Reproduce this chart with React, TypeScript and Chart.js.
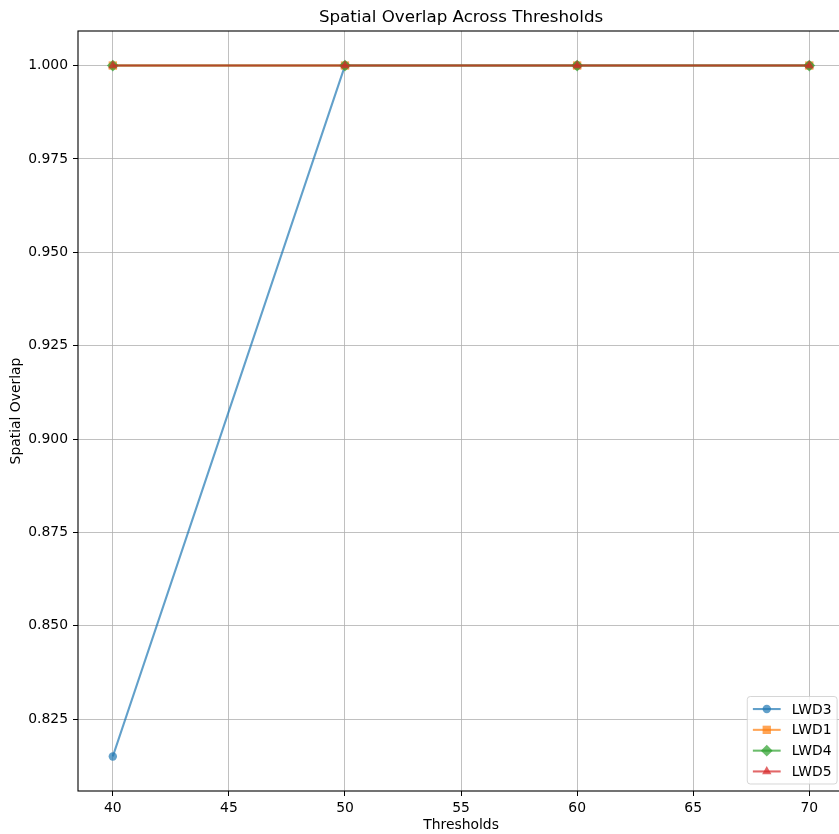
import React, { useEffect, useRef } from 'react';
import { Chart, registerables } from 'chart.js';

Chart.register(...registerables);

// Thresholds evaluated and spatial overlap per series
const thresholds = [40, 50, 60, 70];
const lwd3 = [0.815, 1.0, 1.0, 1.0];
const lwd1 = [1.0, 1.0, 1.0, 1.0];
const lwd4 = [1.0, 1.0, 1.0, 1.0];
const lwd5 = [1.0, 1.0, 1.0, 1.0];
const seriesNames = ['LWD3', 'LWD1', 'LWD4', 'LWD5'];

// Axis ticks
const xTicks = [40, 45, 50, 55, 60, 65, 70];
const yTicks = [0.825, 0.85, 0.875, 0.9, 0.925, 0.95, 0.975, 1.0];

const titleText = 'Spatial Overlap Across Thresholds';
const xLabel = 'Thresholds';
const yLabel = 'Spatial Overlap';

// Styling per series (tab10 colours, 0.7 alpha)
const seriesColors = [
  'rgba(31,119,180,0.7)',
  'rgba(255,127,14,0.7)',
  'rgba(44,160,44,0.7)',
  'rgba(214,39,40,0.7)',
];
const seriesMarkers = ['circle', 'rect', 'rectRot', 'triangle'];
const markerRadii = [4.2, 5.9, 5.9, 5.4];

const FONT = '"DejaVu Sans", "Liberation Sans", sans-serif';
const TICK_PX = 13.9;
const TITLE_PX = 16.7;

function drawMarker(ctx: CanvasRenderingContext2D, style: string, r: number, x: number, y: number) {
  ctx.beginPath();
  if (style === 'circle') {
    ctx.arc(x, y, r, 0, Math.PI * 2);
  } else if (style === 'rect') {
    const s = Math.SQRT1_2 * r;
    ctx.rect(x - s, y - s, 2 * s, 2 * s);
  } else if (style === 'rectRot') {
    ctx.moveTo(x, y - r);
    ctx.lineTo(x + r, y);
    ctx.lineTo(x, y + r);
    ctx.lineTo(x - r, y);
    ctx.closePath();
  } else {
    for (let k = 0; k < 3; k++) {
      const a = (k * 2 * Math.PI) / 3;
      const px = x + Math.sin(a) * r;
      const py = y - Math.cos(a) * r;
      if (k === 0) ctx.moveTo(px, py);
      else ctx.lineTo(px, py);
    }
    ctx.closePath();
  }
  ctx.fill();
}

// Frame, title and in-axes legend, drawn over the datasets
const framePlugin = {
  id: 'frameTitleLegend',
  afterDatasetsDraw(chart: any) {
    const { ctx, chartArea: a } = chart;
    ctx.save();

    // spines
    ctx.strokeStyle = '#000';
    ctx.lineWidth = 1.1;
    ctx.strokeRect(a.left, a.top, a.right - a.left, a.bottom - a.top);

    // title
    ctx.fillStyle = '#000';
    ctx.font = `${TITLE_PX}px ${FONT}`;
    ctx.textAlign = 'center';
    ctx.textBaseline = 'alphabetic';
    ctx.fillText(titleText, (a.left + a.right) / 2, a.top - 9);

    // legend (lower right)
    ctx.font = `${TICK_PX}px ${FONT}`;
    const datasets = chart.data.datasets;
    const pad = 5.6;
    const handleLen = 27.8;
    const textPad = 11.1;
    const rowH = TICK_PX;
    const rowGap = 6.9;
    let maxW = 0;
    datasets.forEach((d: any) => {
      maxW = Math.max(maxW, ctx.measureText(d.label).width);
    });
    const boxW = pad * 2 + handleLen + textPad + maxW;
    const boxH = pad * 2 + datasets.length * rowH + (datasets.length - 1) * rowGap;
    const right = a.right - 7;
    const bottom = a.bottom - 7;
    const left = right - boxW;
    const top = bottom - boxH;

    ctx.beginPath();
    if ((ctx as any).roundRect) (ctx as any).roundRect(left, top, boxW, boxH, 3);
    else ctx.rect(left, top, boxW, boxH);
    ctx.fillStyle = 'rgba(255,255,255,0.8)';
    ctx.fill();
    ctx.strokeStyle = 'rgba(204,204,204,0.8)';
    ctx.lineWidth = 1;
    ctx.stroke();

    datasets.forEach((d: any, i: number) => {
      const cy = top + pad + rowH / 2 + i * (rowH + rowGap);
      const hx0 = left + pad;
      const hx1 = hx0 + handleLen;
      ctx.strokeStyle = d.borderColor;
      ctx.lineWidth = d.borderWidth;
      ctx.beginPath();
      ctx.moveTo(hx0, cy);
      ctx.lineTo(hx1, cy);
      ctx.stroke();
      ctx.fillStyle = d.pointBackgroundColor;
      drawMarker(ctx, d.pointStyle, d.pointRadius, (hx0 + hx1) / 2, cy);
      ctx.fillStyle = '#000';
      ctx.textAlign = 'left';
      ctx.textBaseline = 'middle';
      ctx.fillText(d.label, hx1 + textPad, cy + 1);
    });

    ctx.restore();
  },
};

export default function App() {
  const canvasRef = useRef<HTMLCanvasElement | null>(null);

  useEffect(() => {
    const canvas = canvasRef.current;
    if (!canvas) return;

    const allY = [...lwd3, ...lwd1, ...lwd4, ...lwd5];
    const xMinD = Math.min(...thresholds);
    const xMaxD = Math.max(...thresholds);
    const yMinD = Math.min(...allY);
    const yMaxD = Math.max(...allY);
    const xm = (xMaxD - xMinD) * 0.05;
    const ym = (yMaxD - yMinD) * 0.05;

    const seriesValues = [lwd3, lwd1, lwd4, lwd5];
    const datasets = seriesValues.map((vals, i) => ({
      label: seriesNames[i],
      data: thresholds.map((t, j) => ({ x: t, y: vals[j] })),
      borderColor: seriesColors[i],
      backgroundColor: seriesColors[i],
      pointBackgroundColor: seriesColors[i],
      pointBorderColor: seriesColors[i],
      pointBorderWidth: 0,
      borderWidth: 2.08,
      pointStyle: seriesMarkers[i],
      pointRadius: markerRadii[i],
      tension: 0,
      order: seriesValues.length - i,
    }));

    const chart = new Chart(canvas, {
      type: 'line',
      data: { datasets },
      plugins: [framePlugin],
      options: {
        animation: false,
        responsive: false,
        maintainAspectRatio: false,
        layout: { padding: { top: 31, right: 5, left: 0, bottom: 0 } },
        plugins: {
          legend: { display: false },
          title: { display: false },
          tooltip: { enabled: false },
        },
        scales: {
          x: {
            type: 'linear',
            min: xMinD - xm,
            max: xMaxD + xm,
            afterBuildTicks: (s: any) => {
              s.ticks = xTicks.map((v) => ({ value: v }));
            },
            afterFit: (s: any) => {
              s.height = 43;
            },
            ticks: {
              color: '#000',
              font: { family: FONT, size: TICK_PX },
              padding: 4,
              maxRotation: 0,
              callback: (v: any) => String(v),
            },
            grid: {
              color: '#b0b0b0',
              lineWidth: 0.8,
              tickColor: '#000',
              tickLength: 5,
              tickWidth: 1,
            },
            border: { display: false },
            title: {
              display: true,
              text: xLabel,
              color: '#000',
              font: { family: FONT, size: TICK_PX },
              padding: { top: 0, bottom: 0 },
            },
          },
          y: {
            type: 'linear',
            min: yMinD - ym,
            max: yMaxD + ym,
            afterBuildTicks: (s: any) => {
              s.ticks = yTicks.map((v) => ({ value: v }));
            },
            afterFit: (s: any) => {
              s.width = 78;
            },
            ticks: {
              color: '#000',
              font: { family: FONT, size: TICK_PX },
              padding: 5,
              callback: (v: any) => Number(v).toFixed(3),
            },
            grid: {
              color: '#b0b0b0',
              lineWidth: 0.8,
              tickColor: '#000',
              tickLength: 5,
              tickWidth: 1,
            },
            border: { display: false },
            title: {
              display: true,
              text: yLabel,
              color: '#000',
              font: { family: FONT, size: TICK_PX },
              padding: { top: 8, bottom: 0 },
            },
          },
        },
      },
    } as any);

    return () => chart.destroy();
  }, []);

  return (
    <div
      style={{
        position: 'fixed',
        left: 0,
        top: 0,
        width: 839,
        height: 834,
        overflow: 'hidden',
        background: '#fff',
      }}
    >
      <canvas ref={canvasRef} width={850} height={834} style={{ display: 'block' }} />
    </div>
  );
}
